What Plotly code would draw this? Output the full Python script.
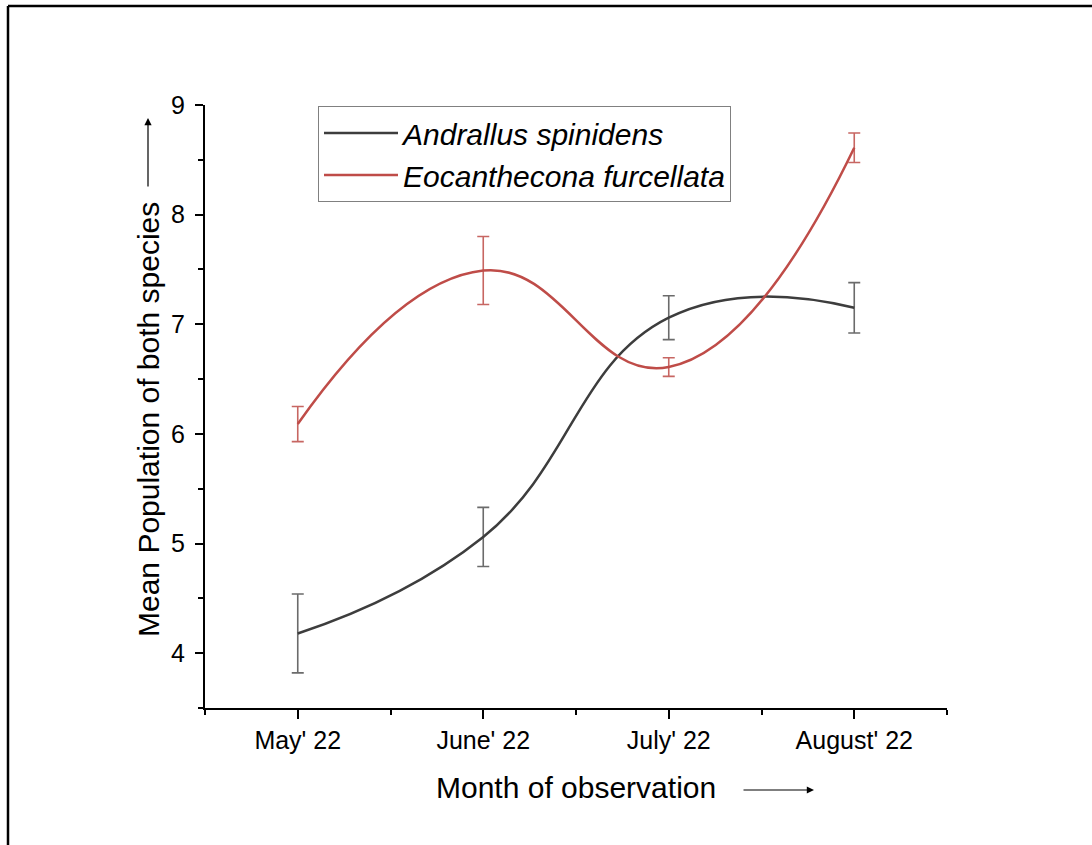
import plotly.graph_objects as go

months = ["May' 22", "June' 22", "July' 22", "August' 22"]
xpos = [0, 1, 2, 3]

andrallus_mean = [4.18, 5.06, 7.06, 7.15]
andrallus_err = [0.36, 0.27, 0.20, 0.23]

eocanthecona_mean = [6.09, 7.49, 6.61, 8.61]
eocanthecona_err = [0.16, 0.31, 0.085, 0.135]

W, H = 1092, 845
L, R, T, B = 205, 947, 105, 708


def px(xp):
    return (xp - L) / (R - L)


def py(yp):
    return (B - yp) / (B - T)


FONT = "Liberation Sans, Arial, sans-serif"

fig = go.Figure()
fig.add_trace(go.Scatter(
    x=xpos, y=andrallus_mean, mode="lines", name="Andrallus spinidens",
    line=dict(color="#3d3d3d", width=2.5, shape="spline", smoothing=1.3),
    error_y=dict(type="data", array=andrallus_err, visible=True,
                 color="#6b6b6b", thickness=1.6, width=6),
))
fig.add_trace(go.Scatter(
    x=xpos, y=eocanthecona_mean, mode="lines", name="Eocanthecona furcellata",
    line=dict(color="#bf4c48", width=2.5, shape="spline", smoothing=1.3),
    error_y=dict(type="data", array=eocanthecona_err, visible=True,
                 color="#c76662", thickness=1.6, width=6),
))

fig.update_layout(
    width=W, height=H,
    margin=dict(l=L, r=W - R, t=T, b=H - B),
    paper_bgcolor="white", plot_bgcolor="white",
    font=dict(family=FONT, color="black"),
    showlegend=True,
    legend=dict(
        x=px(318), y=py(106), xanchor="left", yanchor="top",
        bgcolor="white", bordercolor="#808080", borderwidth=1,
        font=dict(family=FONT, size=30, style="italic", color="black"),
        itemwidth=74, tracegroupgap=0,
    ),
)

fig.update_xaxes(
    range=[-0.5, 3.5], tickvals=xpos, ticktext=months,
    showline=True, linecolor="black", linewidth=2, mirror=False,
    ticks="outside", ticklen=9, tickwidth=2, tickcolor="black",
    tickfont=dict(family=FONT, size=25, color="black"),
    showgrid=False, zeroline=False,
    minor=dict(tickmode="linear", tick0=-0.5, dtick=0.5, ticks="outside",
               ticklen=5, tickwidth=2, tickcolor="black", showgrid=False),
)
fig.update_yaxes(
    range=[3.5, 9], tickvals=[4, 5, 6, 7, 8, 9],
    showline=True, linecolor="black", linewidth=2, mirror=False,
    ticks="outside", ticklen=8, tickwidth=2, tickcolor="black",
    tickfont=dict(family=FONT, size=25, color="black"),
    ticklabelstandoff=5,
    showgrid=False, zeroline=False,
    minor=dict(tickmode="linear", tick0=3.5, dtick=0.5, ticks="outside",
               ticklen=5, tickwidth=2, tickcolor="black", showgrid=False),
)

# axis titles
fig.add_annotation(
    text="Mean Population of both species", xref="paper", yref="paper",
    x=px(148), y=py(420), xanchor="center", yanchor="middle",
    textangle=-90, showarrow=False,
    font=dict(family=FONT, size=30, color="black"),
)
fig.add_annotation(
    text="", xref="paper", yref="paper", x=px(148), y=py(118),
    ax=0, ay=70, showarrow=True, arrowhead=2, arrowsize=1.2,
    arrowwidth=1.2, arrowcolor="black",
)
fig.add_annotation(
    text="Month of observation", xref="paper", yref="paper",
    x=px(576), y=py(787), xanchor="center", yanchor="middle",
    showarrow=False,
    font=dict(family=FONT, size=30, color="black"),
)
fig.add_annotation(
    text="", xref="paper", yref="paper", x=px(814), y=py(790),
    ax=-72, ay=0, showarrow=True, arrowhead=2, arrowsize=1.2,
    arrowwidth=1.2, arrowcolor="black",
)

# outer frame (top and left edges)
fig.add_shape(type="line", xref="paper", yref="paper",
              x0=px(8), x1=px(W + 5), y0=py(6), y1=py(6),
              line=dict(color="black", width=2.5))
fig.add_shape(type="line", xref="paper", yref="paper",
              x0=px(8), x1=px(8), y0=py(6), y1=py(H + 5),
              line=dict(color="black", width=2.5))

fig.write_html(
    "out.html",
    config={"displayModeBar": False},
    post_script="document.body.style.margin='0';document.body.style.overflow='hidden';",
)
